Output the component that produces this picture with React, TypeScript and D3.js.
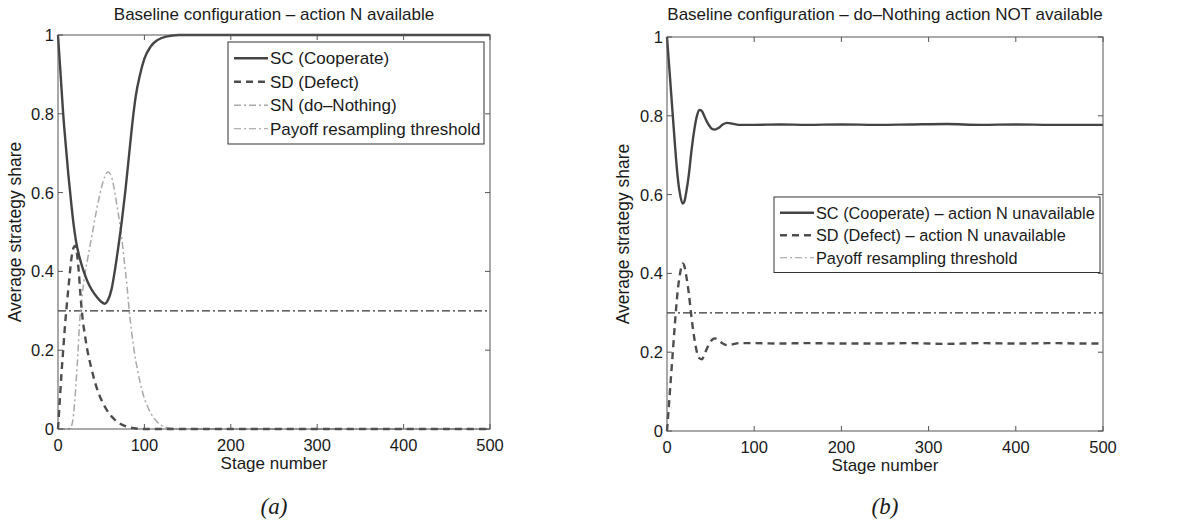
import React from "react";
import * as d3 from "d3";

type Pt = [number, number];

// ---------- data ----------
const xTicks = [0, 100, 200, 300, 400, 500];
const yTicks = [0, 0.2, 0.4, 0.6, 0.8, 1];
const yTickLabels = ["0", "0.2", "0.4", "0.6", "0.8", "1"];
const threshold = 0.3;

const leftSC: Pt[] = [
  [0, 1], [3, 0.9], [6, 0.8], [9, 0.72], [12, 0.645], [15, 0.58], [18, 0.52], [21, 0.475],
  [25, 0.435], [29, 0.405], [34, 0.375], [40, 0.35], [45, 0.335], [50, 0.323], [54, 0.318],
  [58, 0.328], [62, 0.355], [66, 0.405], [70, 0.465], [74, 0.53], [78, 0.605], [82, 0.69],
  [86, 0.775], [90, 0.845], [95, 0.9], [100, 0.94], [107, 0.97], [115, 0.987], [125, 0.996],
  [140, 1], [200, 1], [300, 1], [400, 1], [500, 1],
];
const leftSD: Pt[] = [
  [0, 0], [2, 0.07], [4, 0.14], [6, 0.2], [8, 0.26], [10, 0.31], [13, 0.38], [16, 0.44],
  [18, 0.46], [20, 0.465], [22, 0.445], [24, 0.4], [26, 0.34], [28, 0.29], [31, 0.24],
  [34, 0.2], [38, 0.16], [44, 0.11], [50, 0.075], [56, 0.05], [62, 0.032], [70, 0.016],
  [78, 0.007], [88, 0.002], [100, 0], [200, 0], [300, 0], [400, 0], [500, 0],
];
const leftSN: Pt[] = [
  [0, 0], [12, 0], [15, 0.005], [17, 0.02], [19, 0.06], [21, 0.12], [23, 0.19], [25, 0.27],
  [28, 0.34], [31, 0.39], [35, 0.44], [40, 0.5], [45, 0.56], [50, 0.61], [54, 0.64],
  [58, 0.652], [62, 0.64], [65, 0.61], [68, 0.57], [71, 0.53], [74, 0.48], [77, 0.42],
  [80, 0.36], [82, 0.31], [85, 0.25], [88, 0.2], [92, 0.15], [97, 0.1], [105, 0.05],
  [112, 0.025], [119, 0.01], [130, 0.002], [140, 0], [200, 0], [300, 0], [400, 0], [500, 0],
];

const rightSC: Pt[] = [
  [0, 1], [3, 0.91], [6, 0.82], [9, 0.73], [12, 0.65], [15, 0.6], [18, 0.577], [20, 0.583],
  [22, 0.605], [25, 0.65], [28, 0.71], [31, 0.76], [34, 0.797], [37, 0.815], [40, 0.812],
  [43, 0.798], [47, 0.78], [51, 0.768], [55, 0.765], [59, 0.769], [64, 0.778], [69, 0.782],
  [75, 0.78], [82, 0.777], [100, 0.777], [130, 0.778], [160, 0.777], [200, 0.778],
  [240, 0.777], [280, 0.778], [320, 0.779], [360, 0.777], [400, 0.778], [440, 0.777],
  [480, 0.777], [500, 0.777],
];
const rightSD: Pt[] = [
  [0, 0], [3, 0.09], [6, 0.18], [9, 0.27], [12, 0.35], [15, 0.4], [18, 0.425], [20, 0.418],
  [22, 0.395], [25, 0.35], [28, 0.29], [31, 0.24], [34, 0.203], [37, 0.185], [40, 0.182],
  [43, 0.195], [47, 0.215], [51, 0.23], [55, 0.235], [59, 0.231], [64, 0.222], [69, 0.218],
  [75, 0.22], [82, 0.223], [100, 0.223], [130, 0.222], [160, 0.223], [200, 0.222],
  [240, 0.222], [280, 0.223], [320, 0.221], [360, 0.223], [400, 0.222], [440, 0.223],
  [480, 0.222], [500, 0.222],
];

const leftLegend = ["SC (Cooperate)", "SD (Defect)", "SN (do\u2013Nothing)", "Payoff resampling threshold"];
const rightLegend = [
  "SC (Cooperate) \u2013 action N unavailable",
  "SD (Defect) \u2013 action N unavailable",
  "Payoff resampling threshold",
];

// ---------- styles ----------
const FONT = "'Liberation Sans', Arial, Helvetica, sans-serif";
const TXT = "#1a1a1a";
const STY = {
  sc: { stroke: "#444", width: 2.4, dash: undefined as string | undefined },
  sd: { stroke: "#4d4d4d", width: 2.4, dash: "7,5" },
  sn: { stroke: "#a8a8a8", width: 1.5, dash: "7,3,2,3" },
  th: { stroke: "#333", width: 1.2, dash: "8,3,2,3" },
  thLeg: { stroke: "#999", width: 1.1, dash: "7,3,2,3" },
};

type Series = { data: Pt[]; style: { stroke: string; width: number; dash?: string } };

type PanelProps = {
  x0: number; x1: number; y0: number; y1: number;
  title: string;
  series: Series[];
  legend: { x: number; y: number; w: number; rowH: number; fontSize: number; items: string[]; styles: any[] };
  caption: string;
  ylabelX: number;
};

function Panel(p: PanelProps) {
  const x = d3.scaleLinear().domain([0, 500]).range([p.x0, p.x1]);
  const y = d3.scaleLinear().domain([0, 1]).range([p.y1, p.y0]);
  const line = d3.line<Pt>().x((d) => x(d[0])).y((d) => y(d[1])).curve(d3.curveMonotoneX);
  const tk = 5;
  const cx = (p.x0 + p.x1) / 2;
  const cy = (p.y0 + p.y1) / 2;
  const lg = p.legend;
  const lgH = lg.rowH * lg.items.length + 8;
  return (
    <g>
      <text x={cx} y={20} textAnchor="middle" fontFamily={FONT} fontSize={17} fill={TXT}>{p.title}</text>
      {/* threshold */}
      <path d={line([[0, threshold], [500, threshold]]) || ""} fill="none" stroke={STY.th.stroke}
        strokeWidth={STY.th.width} strokeDasharray={STY.th.dash} />
      {p.series.map((s, i) => (
        <path key={i} d={line(s.data) || ""} fill="none" stroke={s.style.stroke}
          strokeWidth={s.style.width} strokeDasharray={s.style.dash} strokeLinejoin="round" />
      ))}
      {/* frame */}
      <rect x={p.x0} y={p.y0} width={p.x1 - p.x0} height={p.y1 - p.y0} fill="none" stroke="#555" strokeWidth={1} />
      {xTicks.map((t) => (
        <g key={"x" + t}>
          <line x1={x(t)} x2={x(t)} y1={p.y1} y2={p.y1 - tk} stroke="#555" />
          <line x1={x(t)} x2={x(t)} y1={p.y0} y2={p.y0 + tk} stroke="#555" />
          <text x={x(t)} y={p.y1 + 22} textAnchor="middle" fontFamily={FONT} fontSize={16.5} fill={TXT}>{t}</text>
        </g>
      ))}
      {yTicks.map((t, i) => (
        <g key={"y" + t}>
          <line x1={p.x0} x2={p.x0 + tk} y1={y(t)} y2={y(t)} stroke="#555" />
          <line x1={p.x1} x2={p.x1 - tk} y1={y(t)} y2={y(t)} stroke="#555" />
          <text x={p.x0 - 4} y={y(t) + 6} textAnchor="end" fontFamily={FONT} fontSize={16.5} fill={TXT}>{yTickLabels[i]}</text>
        </g>
      ))}
      <text x={cx} y={p.y1 + 40} textAnchor="middle" fontFamily={FONT} fontSize={17} fill={TXT}>Stage number</text>
      <text transform={`translate(${p.ylabelX},${cy}) rotate(-90)`} textAnchor="middle" fontFamily={FONT}
        fontSize={17.5} fill={TXT}>Average strategy share</text>
      {/* legend */}
      <rect x={lg.x} y={lg.y} width={lg.w} height={lgH} fill="#fff" stroke="#333" strokeWidth={1} />
      {lg.items.map((it, i) => {
        const ry = lg.y + 4 + lg.rowH * (i + 0.5) + 0.5;
        const st = lg.styles[i];
        return (
          <g key={it}>
            <line x1={lg.x + 6} x2={lg.x + 40} y1={ry} y2={ry} stroke={st.stroke} strokeWidth={st.width}
              strokeDasharray={st.dash} />
            <text x={lg.x + 42} y={ry + 6} fontFamily={FONT} fontSize={lg.fontSize} fill={TXT}>{it}</text>
          </g>
        );
      })}
      <text x={cx} y={514} textAnchor="middle" fontFamily="'Liberation Serif', 'Times New Roman', serif"
        fontStyle="italic" fontSize={23} fill={TXT}>{p.caption}</text>
    </g>
  );
}

export default function App() {
  return (
    <svg width={1193} height={525} style={{ position: "absolute", left: 0, top: 0, background: "#fff" }}>
      <rect x={0} y={0} width={1193} height={525} fill="#fff" />
      <Panel
        x0={58} x1={490} y0={35} y1={429}
        title={"Baseline configuration \u2013 action N available"}
        series={[
          { data: leftSN, style: STY.sn },
          { data: leftSD, style: STY.sd },
          { data: leftSC, style: STY.sc },
        ]}
        legend={{ x: 228, y: 42, w: 256, rowH: 23.5, fontSize: 17, items: leftLegend,
          styles: [STY.sc, STY.sd, STY.sn, STY.thLeg] }}
        caption="(a)"
        ylabelX={21}
      />
      <Panel
        x0={667} x1={1103} y0={37} y1={431}
        title={"Baseline configuration \u2013 do\u2013Nothing action NOT available"}
        series={[
          { data: rightSD, style: STY.sd },
          { data: rightSC, style: STY.sc },
        ]}
        legend={{ x: 774, y: 197, w: 326, rowH: 22.5, fontSize: 16.3, items: rightLegend,
          styles: [STY.sc, STY.sd, STY.thLeg] }}
        caption="(b)"
        ylabelX={629}
      />
    </svg>
  );
}
